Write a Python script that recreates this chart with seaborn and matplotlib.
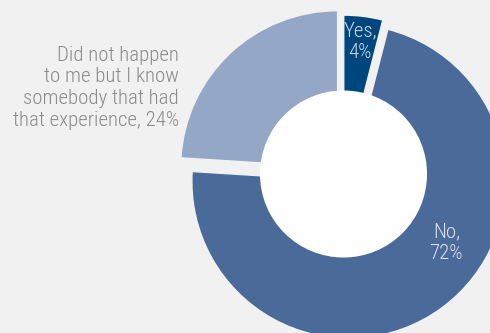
import matplotlib
matplotlib.use("Agg")
import matplotlib.pyplot as plt
import seaborn as sns
from matplotlib.patches import Circle

# Survey answers, clockwise from 12 o'clock
categories = ["Yes", "No", "Did not happen\nto me but I know\nsomebody that had\nthat experience"]
shares = [4, 72, 24]
label_texts = ["Yes,\n4%", "No,\n72%", "Did not happen\nto me but I know\nsomebody that had\nthat experience, 24%"]

sns.set_theme(style="white")
bg = "#f1f1f1"
plt.rcParams["font.family"] = ["Roboto Condensed", "Liberation Sans Narrow", "DejaVu Sans"]

palette = sns.color_palette(["#00467e", "#4a6b9a", "#95a7c6"])

fig = plt.figure(figsize=(4.9, 3.33), dpi=100, facecolor=bg)
ax = fig.add_axes([0, 0, 1, 1])
ax.set_facecolor(bg)

wedges, _ = ax.pie(
    shares,
    colors=palette,
    startangle=90,
    counterclock=False,
    explode=[0.012, 0.058, 0.055],
    radius=1.0,
    wedgeprops=dict(edgecolor=bg, linewidth=1.0),
)

# donut hole
ax.add_patch(Circle((0, 0), 0.532, facecolor="white", edgecolor="none", zorder=3))

# labels
font = dict(fontsize=15, fontweight="light", linespacing=1.18, zorder=4)
ax.text(0.105, 0.845, label_texts[0], ha="center", va="center", ma="center",
        color="#cdd7e8", **font)
ax.text(0.655, -0.435, label_texts[1], ha="center", va="center", ma="center",
        color="#dbe2ef", **font)
ax.text(-1.048, 0.55, label_texts[2], ha="right", va="center", ma="right",
        color="#8a8a8a", **font)

ax.set_aspect("equal")
ax.set_xlim(-343.5 / 157, 146.5 / 157)
ax.set_ylim(-159 / 157, 174 / 157)
ax.axis("off")

fig.savefig("out.png", dpi=100, facecolor=bg)
